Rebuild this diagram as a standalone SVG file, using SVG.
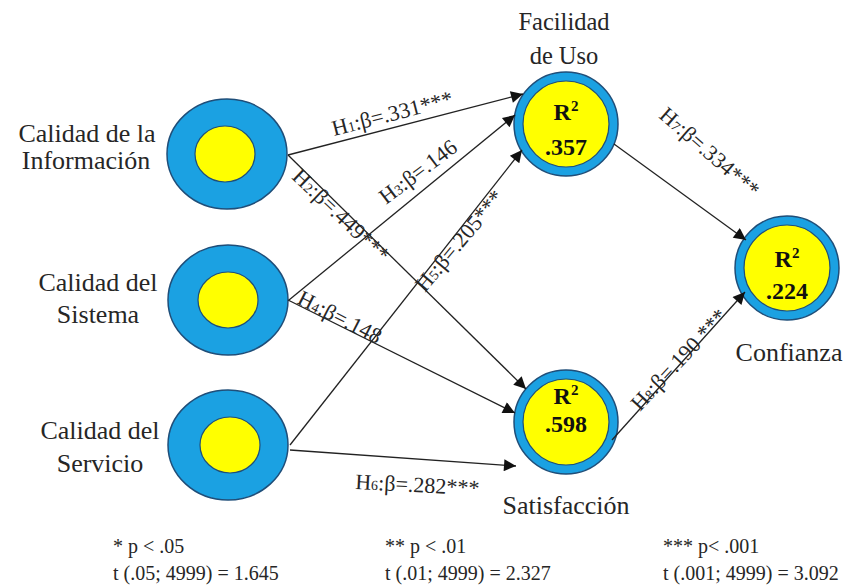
<svg xmlns="http://www.w3.org/2000/svg" width="850" height="588" viewBox="0 0 850 588" font-family="'Liberation Serif', 'DejaVu Serif', 'Times New Roman', serif">
<style>
text{font-family:'Liberation Serif','DejaVu Serif','Times New Roman',serif;fill:#262626}
.lbl{font-size:26px;text-anchor:middle}
.lbs{font-size:24.5px;text-anchor:middle}
.hl{font-size:22px}
.sub{font-size:14px}
.r2{font-size:24px;font-weight:bold;text-anchor:middle;fill:#111}
.ft{font-size:20px}
.outer{fill:#1BA1E2;stroke:#1F4E79;stroke-width:1.5}
.inner{fill:#FFFF00;stroke:#1F4E79;stroke-width:1.2}
.conn line{stroke:#222;stroke-width:1.3;marker-end:url(#arr)}
</style>
<defs>
<marker id="arr" viewBox="0 0 10 10" refX="10" refY="5" markerWidth="16" markerHeight="12" markerUnits="userSpaceOnUse" orient="auto">
<path d="M0,0 L10,5 L0,10 z" fill="#111"/>
</marker>
</defs>
<rect width="850" height="588" fill="#fff"/>

<g id="info">
<ellipse class="outer" cx="227" cy="154" rx="60" ry="55"/>
<ellipse class="inner" cx="225" cy="154" rx="30" ry="28"/>
<text class="lbl" x="87" y="142">Calidad de la</text>
<text class="lbl" x="86" y="169">Información</text>
</g>
<g id="sistema">
<ellipse class="outer" cx="228" cy="300" rx="60" ry="55"/>
<ellipse class="inner" cx="228" cy="300" rx="30" ry="28"/>
<text class="lbl" x="98" y="291">Calidad del</text>
<text class="lbl" x="98" y="323">Sistema</text>
</g>
<g id="servicio">
<ellipse class="outer" cx="228" cy="445" rx="60" ry="55"/>
<ellipse class="inner" cx="230" cy="445" rx="30" ry="28"/>
<text class="lbl" x="100" y="439">Calidad del</text>
<text class="lbl" x="100" y="472">Servicio</text>
</g>
<g id="facilidad">
<circle class="outer" cx="566" cy="124" r="52"/>
<circle class="inner" cx="566" cy="124" r="43"/>
<text class="r2" x="566" y="120">R<tspan font-size="15" dy="-9">2</tspan></text>
<text class="r2" x="566" y="155">.357</text>
<text class="lbs" x="564" y="30">Facilidad</text>
<text class="lbs" x="564" y="64">de Uso</text>
</g>
<g id="satisfaccion">
<circle class="outer" cx="566" cy="422" r="52"/>
<circle class="inner" cx="566" cy="422" r="43"/>
<text class="r2" x="566" y="404">R<tspan font-size="15" dy="-9">2</tspan></text>
<text class="r2" x="566" y="432">.598</text>
<text class="lbl" x="566" y="514">Satisfacción</text>
</g>
<g id="confianza">
<circle class="outer" cx="787" cy="268" r="52"/>
<circle class="inner" cx="787" cy="268" r="43"/>
<text class="r2" x="787" y="267">R<tspan font-size="15" dy="-9">2</tspan></text>
<text class="r2" x="787" y="299">.224</text>
<text class="lbl" x="789" y="361">Confianza</text>
</g>

<g id="connectors" class="conn">
<line x1="288" y1="155" x2="523" y2="94"/>
<line x1="288" y1="155" x2="526" y2="389"/>
<line x1="289" y1="300" x2="515" y2="115"/>
<line x1="288" y1="300" x2="515" y2="413"/>
<line x1="290" y1="445" x2="522" y2="150"/>
<line x1="290" y1="450" x2="516" y2="466"/>
<line x1="614" y1="144" x2="746" y2="240"/>
<line x1="612" y1="440" x2="745" y2="292"/>
</g>

<g id="labels">
<text class="hl" transform="translate(334,136) rotate(-14.5)">H<tspan class="sub">1</tspan>:β=.331***</text>
<text class="hl" transform="translate(291,178) rotate(43.5)">H<tspan class="sub">2</tspan>:β=.449***</text>
<text class="hl" transform="translate(386,205) rotate(-37)">H<tspan class="sub">3</tspan>:β=.146</text>
<text class="hl" transform="translate(296,303) rotate(27)">H<tspan class="sub">4</tspan>:β=.148</text>
<text class="hl" transform="translate(425,293) rotate(-50)">H<tspan class="sub">5</tspan>:β=.205***</text>
<text class="hl" transform="translate(355,489) rotate(3)">H<tspan class="sub">6</tspan>:β=.282***</text>
<text class="hl" transform="translate(658,117) rotate(41)">H<tspan class="sub">7</tspan>:β=.334***</text>
<text class="hl" transform="translate(640,412) rotate(-47)">H<tspan class="sub">8</tspan>:β=.190 ***</text>
</g>

<g id="footnotes">
<text class="ft" x="113" y="553">* p &lt; .05</text>
<text class="ft" x="113" y="580">t (.05; 4999) = 1.645</text>
<text class="ft" x="385" y="553">** p &lt; .01</text>
<text class="ft" x="385" y="580">t (.01; 4999) = 2.327</text>
<text class="ft" x="663" y="553">*** p&lt; .001</text>
<text class="ft" x="663" y="580">t (.001; 4999) = 3.092</text>
</g>
</svg>
